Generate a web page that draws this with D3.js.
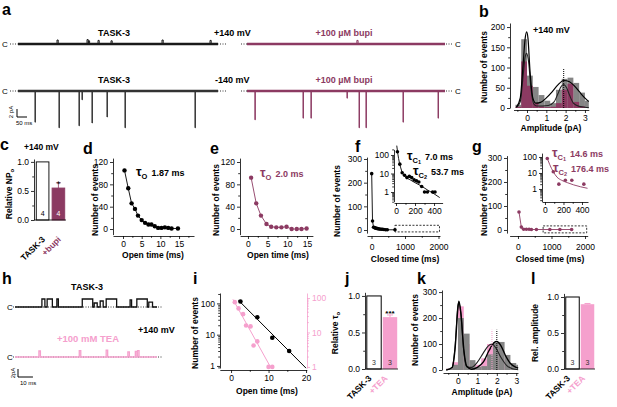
<!DOCTYPE html>
<html><head><meta charset="utf-8">
<script src="https://cdn.jsdelivr.net/npm/d3@7"></script>
<style>
body{margin:0;background:#fff}
svg text{font-family:'Liberation Sans',Arial,Helvetica,sans-serif}
</style></head><body>
<svg id="fig" width="617" height="407"></svg>
<script>
const MAROON = "#8c3a62", PINK = "#f5a0cd", GRAY = "#858585";

// panel a: single-channel events, [time ms, amplitude pA]
const aTaskPos = [[195,1],[345,1.1],[352,0.8],[400,0.9],[465,0.8],[720,1],[960,0.9]];
const aBupiPos = [[555,0.9]];
const aTaskNeg = [[85,-7.8],[205,-9.2],[305,-8.7],[320,-2.2],[370,-8],[445,-6.5],[535,-9.2],[885,-9.2]];
const aBupiNeg = [[40,-7.2],[283,-6.8],[323,-6.8],[505,-1.8],[566,-9.2],[601,-9.2],[788,-7.8],[965,-6.8]];

// panel b: amplitude histograms at +140 mV
const bBins = [-0.6,-0.3,0,0.3,0.6,0.9,1.2,1.5,1.8,2.1,2.4,2.7,3.0];
const bTask = [8,170,80,52,32,18,12,45,72,75,62,38,18];
const bBupi = [3,115,55,12,4,2,3,12,45,60,15,4,0];
const bFitTaskX = [-0.55,-0.35,-0.2,-0.1,-0.02,0.05,0.15,0.3,0.45,0.7,1.0,1.3,1.6,1.9,2.2,2.5,2.8,3.1,3.2];
const bFitTaskY = [2,25,110,170,188,172,95,25,12,14,25,40,57,68,65,52,35,20,16];
const bFitBupiX = [-0.55,-0.35,-0.2,-0.1,-0.02,0.08,0.2,0.35,0.5,0.8,1.1,1.4,1.6,1.75,1.9,2.05,2.2,2.4,2.7,3.0,3.2];
const bFitBupiY = [1,15,80,125,135,115,50,10,5,5,6,15,35,52,58,50,32,12,4,2,1];
const bPeak = 1.9;

// panel c: relative NPo
const cGroups = ["TASK-3","+bupi"];
const cVals = [1,0.55];
const cErr = [0,0.09];
const cN = ["4","4"];

// panel d / e: open time histograms
const dOpen = [0.4,1.4,2.3,3.2,4,5,5.9,6.8,7.6,8.5,9.4,10.3,11.2,12.1,13,14.7];
const dCount = [105,73,46,36,24,16,11,8,8,5,2,2,3,2,1,1];
const eOpen = [0.8,2.1,3.3,4.7,5.9,7.2,8.5,9.8,11.1,12.4,13.6,14.9];
const eCount = [92,46,24,9,4,3,3,4,0,0,0,1];

// panel f: closed times TASK-3
const fClosed = [5,30,60,90,120,150,180,210,250,290,330,370,420,470,700];
const fCount = [238,38,12,10,8,7,6,5,4,3,3,2,1,1,1];
const fInT = [15,40,65,90,115,140,165,190,215,240,270,300,330,385,410];
const fInN = [150,32,11,8,6,7,6,4.5,4,3.5,2,1,1,1,1];
const fFitT = [8,20,35,50,70,100,150,200,260,330,400,460];
const fFitN = [320,110,40,20,10,6.5,4.5,3.2,2.2,1.3,0.8,0.5];

// panel g: closed times + bupi
const gClosed = [30,100,170,250,330,400,550,950,1250,1600];
const gCount = [75,12,3,3,3,2,2,2,2,2];
const gInT = [25,90,150,220,290,420];
const gInN = [80,12,2,3.5,3.5,2];
const gFitT = [20,50,90,130,180,240,310,460];
const gFitN = [100,35,12,5.5,3.5,2.5,1.8,1.1];

// panel h: openings [start ms, end ms, amplitude pA]
const hTask = [[18,20,2],[21.5,25,2],[28,29,2],[45,52,2],[53,55,1],[57,59,1.5],[61,68,2],[77,78,1.8],[81.5,88.5,2],[89.5,92,1.2]];
const hTea = [[16,17,1.5],[43,44,1.6],[61,62,1.7],[75.5,76.5,1.3],[80.5,81.5,1.4],[82,83,1.6]];

// panel i: open time (log)
const iTaskT = [2.5,7,11,15.5];
const iTaskN = [115,36,8,3];
const iTaskFitT = [2,20];
const iTaskFitN = [125,0.85];
const iTeaT = [1,2,3.2,4,5.2,6,7,10,11];
const iTeaN = [76,50,34,16,15,4.2,5.5,1,1];
const iTeaFitT = [0.5,10.5];
const iTeaFitN = [92,1];

// panel j / l
const jGroups = ["TASK-3","+TEA"];
const jVals = [1,0.71];
const jErr = [0,0.03];
const lVals = [1,0.9];
const lErr = [0,0.01];
const jN = ["3","3"];

// panel k: amplitude histograms TEA
const kBins = [-0.6,-0.3,0,0.3,0.6,0.9,1.2,1.5,1.8,2.1,2.4,2.7,3.0];
const kTask = [5,20,200,140,38,12,15,60,105,108,58,27,20];
const kTea = [5,30,245,100,15,20,45,100,100,40,10,3,0];
const kFitTaskX = [-0.6,-0.3,-0.15,0,0.05,0.15,0.3,0.45,0.7,1.0,1.3,1.6,1.85,2.0,2.2,2.45,2.7,3.0,3.1];
const kFitTaskY = [0,10,80,240,265,220,80,15,3,10,30,75,105,110,95,55,25,10,7];
const kFitTeaX = [-0.6,-0.3,-0.15,0,0.05,0.15,0.3,0.45,0.7,1.0,1.3,1.55,1.75,1.95,2.2,2.5,2.8,3.1];
const kFitTeaY = [0,10,90,250,262,215,70,12,10,30,65,92,100,85,50,18,5,1];
const kPeakTask = 2.0, kPeakTea = 1.75;

const svg = d3.select("#fig");
const FS = 8.5;

function styleAxis(g, color) {
  g.selectAll("path,line").attr("stroke", color || "#000").attr("stroke-width", 0.8);
  g.selectAll("text").attr("font-size", FS).attr("fill", color || "#000");
}
function logMinor(lo, hi) {
  const out = [];
  [0.1, 1, 10, 100].forEach(p => { for (let k = 2; k <= 9; k++) { const v = +(k * p).toPrecision(3); if (v >= lo && v <= hi) out.push(v); } });
  return out;
}
function yAxis(x0, y, ticks, fmt, minor, opts = {}) {
  const mk = opts.right ? d3.axisRight : d3.axisLeft;
  const g = svg.append("g").attr("transform", `translate(${x0},0)`)
    .call(mk(y).tickValues(ticks).tickSize(3).tickSizeOuter(0).tickPadding(2).tickFormat(fmt || (d => d)));
  styleAxis(g, opts.color);
  if (minor) {
    const m = svg.append("g").attr("transform", `translate(${x0},0)`)
      .call(mk(y).tickValues(minor).tickSize(1.8).tickFormat(""));
    m.select(".domain").remove(); styleAxis(m, opts.color);
  }
}
function xAxis(y0, x, ticks, minor, pad) {
  const g = svg.append("g").attr("transform", `translate(0,${y0})`)
    .call(d3.axisBottom(x).tickValues(ticks).tickSize(3).tickSizeOuter(0).tickPadding(pad || 2).tickFormat(d => d));
  styleAxis(g);
  if (minor) {
    const m = svg.append("g").attr("transform", `translate(0,${y0})`)
      .call(d3.axisBottom(x).tickValues(minor).tickSize(1.8).tickFormat(""));
    m.select(".domain").remove(); styleAxis(m);
  }
}
function text(x, y, s, o = {}) {
  return svg.append("text").attr("x", x).attr("y", y).text(s)
    .attr("font-size", o.size || FS).attr("font-weight", o.bold === false ? "normal" : "bold")
    .attr("fill", o.color || "#000").attr("text-anchor", o.anchor || "start");
}
function vtext(x, y, s, o = {}) {
  return svg.append("text").attr("transform", `translate(${x},${y}) rotate(${o.rot || -90})`)
    .text(s).attr("font-size", o.size || FS).attr("font-weight", o.bold === false ? "normal" : "bold")
    .attr("fill", o.color || "#000").attr("text-anchor", o.anchor || "middle");
}
function letter(x, y, s) { text(x, y, s, { size: 16 }); }
function curve(xs, ys, X, Y, color, w, c) {
  svg.append("path").datum(X.map((v, i) => [v, Y[i]]))
    .attr("d", d3.line().x(d => xs(d[0])).y(d => ys(d[1])).curve(c || d3.curveMonotoneX))
    .attr("fill", "none").attr("stroke", color).attr("stroke-width", w || 1);
}
function dots(xs, ys, X, Y, color, r) {
  svg.append("g").selectAll("circle").data(X).join("circle")
    .attr("cx", d => xs(d)).attr("cy", (d, i) => ys(Y[i])).attr("r", r || 2.2).attr("fill", color);
}
function hist(xs, ys, bins, w, counts, color) {
  svg.append("g").selectAll("rect").data(bins).join("rect")
    .attr("x", d => xs(d)).attr("width", d => Math.min(xs(d + w), xs.range()[1]) - xs(d))
    .attr("y", (d, i) => ys(counts[i])).attr("height", (d, i) => ys(0) - ys(counts[i])).attr("fill", color);
}
function tau(x, y, sub, subsub, val, color) {
  const t = svg.append("text").attr("x", x).attr("y", y).attr("fill", color).attr("font-weight", "bold");
  t.append("tspan").attr("font-size", 12.5).text("τ");
  t.append("tspan").attr("font-size", 7.5).attr("dy", 2.5).text(sub);
  let back = 2.5;
  if (subsub) { t.append("tspan").attr("font-size", 5.5).attr("dy", 1.2).text(subsub); back = 3.7; }
  t.append("tspan").attr("font-size", 9).attr("dy", -back).attr("dx", 4).text(val);
}
function hline(x1, x2, y, o = {}) {
  svg.append("line").attr("x1", x1).attr("x2", x2).attr("y1", y).attr("y2", y)
    .attr("stroke", o.color || "#000").attr("stroke-width", o.w || 0.8).attr("stroke-dasharray", o.dash || null);
}
function vline(x, y1, y2, o = {}) {
  svg.append("line").attr("x1", x).attr("x2", x).attr("y1", y1).attr("y2", y2)
    .attr("stroke", o.color || "#000").attr("stroke-width", o.w || 0.8).attr("stroke-dasharray", o.dash || null);
}

// ---------------- panel a ----------------
letter(2, 15, "a");
const xaL = d3.scaleLinear().domain([0, 1000]).range([18, 218]);
const xaR = d3.scaleLinear().domain([0, 1000]).range([247, 445]);
const ya1 = d3.scaleLinear().domain([0, 2]).range([44, 36]);
const ya2 = d3.scaleLinear().domain([0, 2]).range([91, 83]);
function spikes(xs, ys, ev, color, dur) {
  hline(xs(0), xs(1000), ys(0), { color: color, w: 2.4 });
  const pts = [];
  ev.forEach(([t, a]) => pts.push([[t, 0], [t, a], [t + dur, a], [t + dur, 0]]));
  svg.append("g").selectAll("path").data(pts).join("path")
    .attr("d", d3.line().x(d => xs(d[0])).y(d => ys(d[1])))
    .attr("fill", "none").attr("stroke", color).attr("stroke-width", 1);
}
[[ya1, 44], [ya2, 91]].forEach(([ys, yy]) => {
  hline(10, 226, ys(0), { dash: "1,1.5" });
  hline(241, 453, ys(0), { dash: "1,1.5" });
  text(2, yy + 3, "C", { size: 8, bold: false });
  text(455, yy + 3, "C", { size: 8, bold: false });
});
spikes(xaL, ya1, aTaskPos, "#1a1a1a", 6);
spikes(xaR, ya1, aBupiPos, MAROON, 6);
spikes(xaL, ya2, aTaskNeg, "#333", 2);
spikes(xaR, ya2, aBupiNeg, MAROON, 2);
text(114, 36, "TASK-3", { size: 9, anchor: "middle" });
text(214, 36, "+140 mV", { size: 9 });
text(344, 36, "+100 µM bupi", { size: 9, anchor: "middle", color: MAROON });
text(114, 83, "TASK-3", { size: 9, anchor: "middle" });
text(215, 83, "-140 mV", { size: 9 });
text(344, 83, "+100 µM bupi", { size: 9, anchor: "middle", color: MAROON });
// scale bar 50 ms / 2 pA
{
  const x0 = 17, y0 = 117;
  const w = xaL(50) - xaL(0), h = ya2(0) - ya2(2);
  svg.append("path").attr("d", `M${x0},${y0 - h}V${y0}H${x0 + w}`).attr("fill", "none").attr("stroke", "#000").attr("stroke-width", 1);
  vtext(13, y0 - h / 2 - 1, "2 pA", { size: 6, bold: false });
  text(x0 - 1, y0 + 8, "50 ms", { size: 6, bold: false });
}

// ---------------- panel b ----------------
letter(479, 17, "b");
const xb = d3.scaleLinear().domain([-0.7, 3.2]).range([513.5, 588.8]);
const yb = d3.scaleLinear().domain([0, 210]).range([108, 23]);
hist(xb, yb, bBins, 0.3, bTask, GRAY);
hist(xb, yb, bBins, 0.3, bBupi, MAROON);
curve(xb, yb, bFitBupiX, bFitBupiY, "#222", 1.1);
curve(xb, yb, bFitTaskX, bFitTaskY, "#000", 1.2);
vline(xb(bPeak), yb(0), yb(98), { dash: "1,1", w: 1 });
yAxis(510, yb, [0, 50, 100, 150, 200], null, [25, 75, 125, 175]);
xAxis(110, xb, [0, 1, 2, 3], [-0.5, 0.5, 1.5, 2.5]);
text(533, 33, "+140 mV", { size: 9 });
text(551, 131, "Amplitude (pA)", { anchor: "middle" });
vtext(487, 67, "Number of events");

// ---------------- panel c ----------------
letter(0, 150, "c");
text(24, 150, "+140 mV", { size: 8.5 });
const yc = d3.scaleLinear().domain([0, 1.05]).range([220, 159]);
const xc = d3.scaleBand().domain(cGroups).range([35, 66]).paddingInner(0.2).paddingOuter(0.08);
svg.append("g").selectAll("rect").data(cGroups).join("rect")
  .attr("x", d => xc(d)).attr("width", xc.bandwidth())
  .attr("y", (d, i) => yc(cVals[i])).attr("height", (d, i) => yc(0) - yc(cVals[i]))
  .attr("fill", (d, i) => i ? MAROON : "#fff").attr("stroke", (d, i) => i ? MAROON : "#000").attr("stroke-width", 0.9);
cGroups.forEach((d, i) => {
  const cx = xc(d) + xc.bandwidth() / 2;
  if (cErr[i]) { vline(cx, yc(cVals[i]), yc(cVals[i] + cErr[i]), { color: MAROON }); hline(cx - 2.5, cx + 2.5, yc(cVals[i] + cErr[i]), { color: MAROON }); }
  text(cx, 216, cN[i], { size: 7, bold: false, anchor: "middle", color: i ? "#fff" : "#000" });
  vtext(cx + 3, 240, d, { rot: -45, anchor: "end", size: 8.5, color: i ? MAROON : "#000" });
});
text(xc("+bupi") + xc.bandwidth() / 2, 187, "*", { size: 9, bold: false, anchor: "middle" });
yAxis(34, yc, [0, 0.5, 1], d3.format(".1f"), [0.25, 0.75]);
hline(34, 66, yc(0));
{
  const t = vtext(12, 194, "Relative NP");
  t.append("tspan").attr("font-size", 6).attr("dy", 2).text("o");
}

// ---------------- panel d ----------------
letter(83, 154, "d");
const xd = d3.scaleLinear().domain([-2.68, 19]).range([113, 194]);
const yd = d3.scaleLinear().domain([-10, 127]).range([234.6, 158.1]);
curve(xd, yd, dOpen, dCount, "#000", 0.9, d3.curveLinear);
dots(xd, yd, dOpen, dCount, "#000");
yAxis(113, yd, [0, 40, 80, 120], null, [20, 60, 100]);
xAxis(236, xd, [0, 5, 10, 15], [2.5, 7.5, 12.5, 17.5]);
text(153, 258, "Open time (ms)", { anchor: "middle" });
vtext(98, 200, "Number of events");
tau(136, 176, "O", null, "1.87 ms", "#000");

// ---------------- panel e ----------------
letter(210, 154, "e");
const xe = d3.scaleLinear().domain([-2, 16.5]).range([240.1, 312.9]);
const ye = yd.copy();
curve(xe, ye, eOpen, eCount, MAROON, 0.9, d3.curveLinear);
dots(xe, ye, eOpen, eCount, MAROON);
yAxis(240, ye, [0, 40, 80, 120], null, [20, 60, 100]);
xAxis(236, xe, [0, 5, 10, 15], [2.5, 7.5, 12.5]);
text(278, 258, "Open time (ms)", { anchor: "middle" });
vtext(219, 200, "Number of events");
tau(260, 177, "O", null, "2.0 ms", MAROON);

// ---------------- panel f ----------------
letter(355, 152, "f");
const xf = d3.scaleLinear().domain([-135, 2045]).range([367, 440]);
const yf = d3.scaleLinear().domain([-13, 308]).range([233.1, 157.1]);
curve(xf, yf, fClosed, fCount, "#000", 0.9, d3.curveLinear);
dots(xf, yf, fClosed, fCount, "#000", 1.8);
svg.append("rect").attr("x", xf(700)).attr("y", yf(20)).attr("width", xf(2030) - xf(700)).attr("height", yf(-8) - yf(20))
  .attr("fill", "none").attr("stroke", "#000").attr("stroke-width", 0.8).attr("stroke-dasharray", "2,1.5");
yAxis(367, yf, [0, 100, 200, 300], null, [50, 150, 250]);
xAxis(236, xf, [0, 1000, 2000], [500, 1500], 5);
text(405, 262, "Closed time (ms)", { anchor: "middle" });
vtext(340, 201, "Number of events");
const xfi = d3.scaleLinear().domain([-20, 490]).range([394.1, 442.6]);
const yfi = d3.scaleLog().domain([0.3, 200]).range([201.7, 149.4]);
curve(xfi, yfi, fFitT, fFitN, "#000", 0.9);
dots(xfi, yfi, fInT, fInN, "#000", 1.8);
yAxis(394, yfi, [1, 10, 100], null, logMinor(0.3, 200));
xAxis(203, xfi, [0, 200, 400], [100, 300]);
tau(407, 160, "C", "1", "7.0 ms", "#000");
tau(413, 175, "C", "2", "53.7 ms", "#000");

// ---------------- panel g ----------------
letter(472, 152, "g");
const xg = d3.scaleLinear().domain([-250, 2080]).range([509.6, 587.7]);
const yg = d3.scaleLinear().domain([-13, 310]).range([233.1, 155.6]);
curve(xg, yg, gClosed, gCount, MAROON, 0.9, d3.curveLinear);
dots(xg, yg, gClosed, gCount, MAROON, 1.8);
svg.append("rect").attr("x", xg(750)).attr("y", yg(17)).attr("width", xg(2050) - xg(750)).attr("height", yg(-12) - yg(17))
  .attr("fill", "none").attr("stroke", "#000").attr("stroke-width", 0.8).attr("stroke-dasharray", "2,1.5");
yAxis(507, yg, [0, 100, 200, 300], null, [50, 150, 250]);
xAxis(236, xg, [0, 1000, 2000], [500, 1500], 5);
text(550, 262, "Closed time (ms)", { anchor: "middle" });
vtext(487, 200, "Number of events");
const xgi = d3.scaleLinear().domain([-30, 465]).range([542.2, 588]);
const ygi = d3.scaleLog().domain([0.16, 175]).range([201.7, 153.1]);
curve(xgi, ygi, gFitT, gFitN, MAROON, 0.9);
dots(xgi, ygi, gInT, gInN, MAROON, 1.8);
yAxis(542, ygi, [1, 10, 100], null, logMinor(0.16, 175));
xAxis(202, xgi, [0, 200, 400], [100, 300]);
tau(552, 157, "C", "1", "14.6 ms", MAROON);
tau(553, 172, "C", "2", "176.4 ms", MAROON);

// ---------------- panel h ----------------
letter(2, 284, "h");
const xh = d3.scaleLinear().domain([0, 95]).range([15, 157]);
const yhT = d3.scaleLinear().domain([0, 2]).range([307, 299]);
const yhE = d3.scaleLinear().domain([0, 2]).range([357, 349]);
function steps(ys, ev, color) {
  const pts = [[0, 0]];
  ev.forEach(([s, e, a]) => pts.push([s, 0], [s, a], [e, a], [e, 0]));
  pts.push([95, 0]);
  hline(13, 162, ys(0), { dash: "1,1.5" });
  svg.append("path").datum(pts).attr("d", d3.line().x(d => xh(d[0])).y(d => ys(d[1])))
    .attr("fill", "none").attr("stroke", color).attr("stroke-width", 1.3);
}
steps(yhT, hTask, "#111");
steps(yhE, hTea, PINK);
text(7, 310, "C", { size: 8, bold: false });
text(7, 360, "C", { size: 8, bold: false });
text(87, 290, "TASK-3", { size: 9, anchor: "middle" });
text(138, 333, "+140 mV", { size: 9 });
text(57, 342, "+100 mM TEA", { size: 9.5, color: PINK });
{
  const x0 = 18, y0 = 377;
  const w = xh(10) - xh(0), h = yhT(0) - yhT(2);
  svg.append("path").attr("d", `M${x0},${y0 - h}V${y0}H${x0 + w}`).attr("fill", "none").attr("stroke", "#000").attr("stroke-width", 1);
  vtext(15, y0 - h / 2, "2pA", { size: 6, bold: false });
  text(x0 + 2, y0 + 8, "10 ms", { size: 6, bold: false });
}

// ---------------- panel i ----------------
letter(193, 284, "i");
const xi = d3.scaleLinear().domain([-3, 20.2]).range([219.8, 306.8]);
const yiL = d3.scaleLog().domain([0.86, 215]).range([368, 293]);
const yiR = d3.scaleLog().domain([0.93, 140]).range([368, 293]);
curve(xi, yiR, iTeaFitT, iTeaFitN, PINK, 1, d3.curveLinear);
dots(xi, yiR, iTeaT, iTeaN, PINK, 2.3);
curve(xi, yiL, iTaskFitT, iTaskFitN, "#000", 1, d3.curveLinear);
dots(xi, yiL, iTaskT, iTaskN, "#000", 2.3);
yAxis(220, yiL, [1, 10, 100], null, logMinor(0.86, 215));
yAxis(307, yiR, [1, 10, 100], null, logMinor(0.93, 140), { right: true, color: PINK });
xAxis(370, xi, [0, 10, 20], [5, 15]);
text(267, 394, "Open time (ms)", { anchor: "middle" });
vtext(198, 333, "Number of events");

// ---------------- panel j ----------------
letter(345, 284, "j");
function relBars(x0, x1, yScale, vals, errs) {
  const xs = d3.scaleBand().domain(jGroups).range([x0, x1]).paddingInner(0.1).paddingOuter(0.05);
  svg.append("g").selectAll("rect").data(jGroups).join("rect")
    .attr("x", d => xs(d)).attr("width", xs.bandwidth())
    .attr("y", (d, i) => yScale(vals[i])).attr("height", (d, i) => yScale(0) - yScale(vals[i]))
    .attr("fill", (d, i) => i ? PINK : "#fff").attr("stroke", (d, i) => i ? "none" : "#000").attr("stroke-width", 1);
  jGroups.forEach((d, i) => {
    const cx = xs(d) + xs.bandwidth() / 2;
    if (errs[i]) { vline(cx, yScale(vals[i]), yScale(vals[i] + errs[i]), { color: PINK, w: 1 }); hline(cx - 3, cx + 3, yScale(vals[i] + errs[i]), { color: PINK, w: 1 }); }
    text(cx, 365, jN[i], { size: 7, bold: false, anchor: "middle", color: "#333" });
    vtext(cx - 2, yScale(0) + 10, d, { rot: -45, anchor: "end", size: 8.5, color: i ? PINK : "#000" });
  });
  hline(x0 - 1, x1, yScale(0));
  return xs;
}
const yj = d3.scaleLinear().domain([0, 1.05]).range([369, 292.3]);
const xj = relBars(366, 398, yj, jVals, jErr);
text(xj("+TEA") + xj.bandwidth() / 2, 316, "***", { size: 8, anchor: "middle" });
yAxis(365, yj, [0, 0.5, 1], d3.format(".1f"), [0.25, 0.75]);
{
  const t = vtext(338, 333, "Relative τ");
  t.append("tspan").attr("font-size", 6).attr("dy", 2).text("o");
}

// ---------------- panel k ----------------
letter(417, 284, "k");
const xk = d3.scaleLinear().domain([-0.77, 3.09]).range([443, 518]);
const yk = d3.scaleLinear().domain([0, 308]).range([370, 290]);
hist(xk, yk, kBins, 0.3, kTea, PINK);
hist(xk, yk, kBins, 0.3, kTask, GRAY);
curve(xk, yk, kFitTeaX, kFitTeaY, "#222", 1.1);
curve(xk, yk, kFitTaskX, kFitTaskY, "#000", 1.4);
vline(xk(kPeakTea), yk(0), yk(155), { dash: "1,1", color: PINK, w: 1 });
vline(xk(kPeakTask), yk(0), yk(155), { dash: "1,1", w: 1 });
yAxis(442, yk, [0, 100, 200, 300], null, [50, 150, 250]);
xAxis(373, xk, [0, 1, 2, 3], [-0.5, 0.5, 1.5, 2.5]);
text(482, 395, "Amplitude (pA)", { anchor: "middle" });
vtext(418, 330, "Number of events");

// ---------------- panel l ----------------
letter(531, 284, "l");
const yl = d3.scaleLinear().domain([0, 1.05]).range([369, 293.4]);
relBars(565, 595, yl, lVals, lErr);
yAxis(564, yl, [0, 0.5, 1], d3.format(".1f"), [0.25, 0.75]);
vtext(538, 333, "Rel. amplitude");
</script>
</body></html>
